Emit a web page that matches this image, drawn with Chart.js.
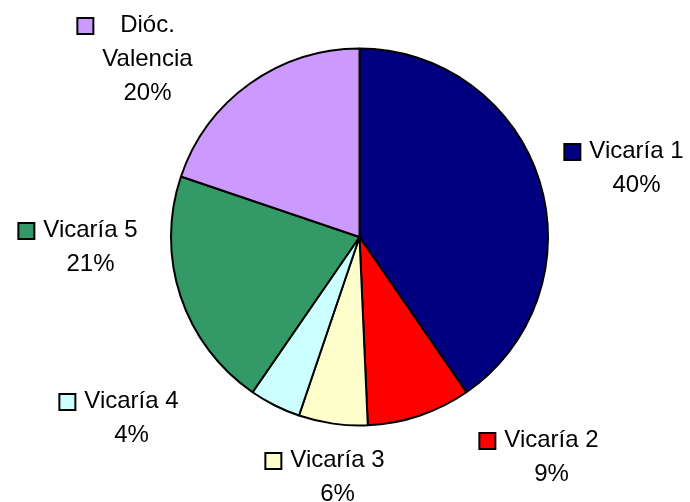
<!DOCTYPE html>
<html>
<head>
<meta charset="utf-8">
<script src="https://cdn.jsdelivr.net/npm/chart.js@4/dist/chart.umd.min.js"></script>
<style>
  html, body { margin: 0; padding: 0; background: #fff; }
  #wrap { width: 690px; height: 502px; }
</style>
</head>
<body>
<div id="wrap"><canvas id="pieChart"></canvas></div>
<script>
// Share of each vicaría (labels show rounded %)
const categories = ['Vicaría 1', 'Vicaría 2', 'Vicaría 3', 'Vicaría 4', 'Vicaría 5', ['Dióc.', 'Valencia']];
const shares = [40.4, 8.9, 5.9, 4.4, 20.6, 19.8];
const sliceColors = ['#000080', '#FF0000', '#FFFFCC', '#CCFFFF', '#339966', '#CC99FF'];

// Where each label sits, relative to the pie centre (text centre x, first baseline y)
const labelOffsets = [[277, -79], [192, 210], [-22, 230], [-228, 171], [-269, 0], [-212, -205]];

const outsideLabels = {
    id: 'outsideLabels',
    afterDatasetsDraw(chart) {
        const ctx = chart.ctx;
        const arcs = chart.getDatasetMeta(0).data;
        const total = shares.reduce((a, b) => a + b, 0);
        ctx.save();
        ctx.font = '24px "Liberation Sans", Arial, sans-serif';
        ctx.fillStyle = '#000';
        ctx.textAlign = 'center';
        ctx.textBaseline = 'alphabetic';
        for (let i = 0; i < arcs.length; i++) {
            const arc = arcs[i];
            const name = Array.isArray(categories[i]) ? categories[i] : [categories[i]];
            const lines = name.concat([Math.round(shares[i] / total * 100) + '%']);
            const cx = arc.x + labelOffsets[i][0];
            const by = arc.y + labelOffsets[i][1];
            let left = Infinity;
            lines.forEach((line, j) => {
                const w = ctx.measureText(line).width;
                left = Math.min(left, cx - w / 2);
                ctx.fillText(line, cx, by + j * 34);
            });
            // legend key
            ctx.fillStyle = sliceColors[i];
            ctx.fillRect(left - 25, by - 14, 16, 16);
            ctx.lineWidth = 2;
            ctx.strokeStyle = '#000';
            ctx.strokeRect(left - 25, by - 14, 16, 16);
            ctx.fillStyle = '#000';
        }
        ctx.restore();
    }
};

new Chart(document.getElementById('pieChart'), {
    type: 'pie',
    data: {
        labels: categories,
        datasets: [{
            data: shares,
            backgroundColor: sliceColors,
            borderColor: '#000',
            borderWidth: 2
        }]
    },
    options: {
        responsive: true,
        maintainAspectRatio: false,
        animation: false,
        layout: {
            padding: { top: 47, bottom: 75, left: 170, right: 141 }
        },
        plugins: {
            legend: { display: false },
            tooltip: { enabled: false }
        }
    },
    plugins: [outsideLabels]
});
</script>
</body>
</html>
